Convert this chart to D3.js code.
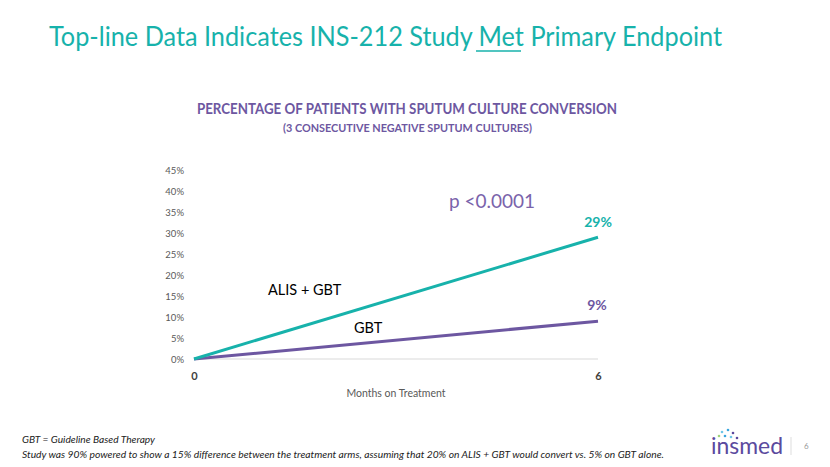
<!DOCTYPE html>
<html><head><meta charset="utf-8">
<script src="https://cdn.jsdelivr.net/npm/d3@7/dist/d3.min.js"></script>
<style>body{margin:0;background:#fff}svg{display:block}text{font-family:Lato,"Open Sans",sans-serif}</style>
</head><body>
<script>
const months = [0, 6];
const alisGbt = [0, 29];
const gbt = [0, 9];
const yTicks = [0,5,10,15,20,25,30,35,40,45];
const xTicks = [0, 6];
const endLabels = ["29%", "9%"];

const W = 830, H = 467;
const teal = "#17b2ab", purple = "#6d57a1";
const svg = d3.select("body").append("svg").attr("width", W).attr("height", H);

const x = d3.scaleLinear().domain([0, 6]).range([194, 598]);
const y = d3.scaleLinear().domain([0, 45]).range([359, 170]);

// Title
svg.append("text").attr("x", 49).attr("y", 46).attr("fill", teal)
  .attr("font-size", 26).attr("textLength", 673).attr("lengthAdjust", "spacingAndGlyphs")
  .text("Top-line Data Indicates INS-212 Study Met Primary Endpoint");
svg.append("line").attr("x1", 476).attr("x2", 521).attr("y1", 51).attr("y2", 51)
  .attr("stroke", teal).attr("stroke-width", 1.5);

// Subtitle
svg.append("text").attr("x", 197).attr("y", 114).attr("fill", purple)
  .attr("font-size", 14.5).attr("font-weight", "bold").attr("textLength", 420)
  .attr("lengthAdjust", "spacingAndGlyphs")
  .text("PERCENTAGE OF PATIENTS WITH SPUTUM CULTURE CONVERSION");
svg.append("text").attr("x", 283).attr("y", 132).attr("fill", purple)
  .attr("font-size", 11).attr("font-weight", "bold").attr("textLength", 249)
  .attr("lengthAdjust", "spacingAndGlyphs")
  .text("(3 CONSECUTIVE NEGATIVE SPUTUM CULTURES)");

// Y axis
const ya = svg.append("g").attr("transform", "translate(194,0)")
  .call(d3.axisLeft(y).tickValues(yTicks).tickFormat(d => d + "%").tickSize(0).tickPadding(10));
ya.select(".domain").remove();
ya.selectAll("text").attr("fill", "#595959").attr("font-size", 9.5).style("font-family", "Lato, sans-serif");

// baseline grid
svg.append("line").attr("x1", x(0)).attr("x2", x(6)).attr("y1", y(0)).attr("y2", y(0))
  .attr("stroke", "#d9d9d9").attr("stroke-width", 1);

// X axis
const xa = svg.append("g").attr("transform", `translate(0,${y(0)})`)
  .call(d3.axisBottom(x).tickValues(xTicks).tickFormat(d3.format("d")).tickSize(0).tickPadding(13));
xa.select(".domain").remove();
xa.selectAll("text").attr("fill", "#404040").attr("font-size", 11).attr("font-weight", "bold")
  .style("font-family", "Lato, sans-serif");

svg.append("text").attr("x", 396).attr("y", 397).attr("text-anchor", "middle")
  .attr("fill", "#595959").attr("font-size", 10.5).text("Months on Treatment");

// Lines
const line = d3.line().x((d, i) => x(months[i])).y(d => y(d));
svg.append("path").datum(gbt).attr("d", line).attr("fill", "none")
  .attr("stroke", purple).attr("stroke-width", 3);
svg.append("path").datum(alisGbt).attr("d", line).attr("fill", "none")
  .attr("stroke", teal).attr("stroke-width", 3);

// end labels
svg.append("text").attr("x", x(6)).attr("y", y(alisGbt[1]) - 10).attr("text-anchor", "middle")
  .attr("fill", teal).attr("font-size", 14).attr("font-weight", "bold").text(endLabels[0]);
svg.append("text").attr("x", x(6) - 1).attr("y", y(gbt[1]) - 11).attr("text-anchor", "middle")
  .attr("fill", purple).attr("font-size", 14).attr("font-weight", "bold").text(endLabels[1]);

// series labels
svg.append("text").attr("x", 268).attr("y", 295).attr("fill", "#000")
  .attr("font-size", 14.5).text("ALIS + GBT");
svg.append("text").attr("x", 354).attr("y", 333).attr("fill", "#000")
  .attr("font-size", 14.5).text("GBT");

svg.append("text").attr("x", 449).attr("y", 208).attr("fill", "#7a63ab")
  .attr("font-size", 19).text("p <0.0001");

// footnotes
svg.append("text").attr("x", 22).attr("y", 443).attr("fill", "#222").attr("font-size", 10)
  .attr("font-style", "italic").attr("textLength", 133).attr("lengthAdjust", "spacingAndGlyphs")
  .text("GBT = Guideline Based Therapy");
svg.append("text").attr("x", 22).attr("y", 458).attr("fill", "#222").attr("font-size", 10)
  .attr("font-style", "italic").attr("textLength", 642).attr("lengthAdjust", "spacingAndGlyphs")
  .text("Study was 90% powered to show a 15% difference between the treatment arms, assuming that 20% on ALIS + GBT would convert vs. 5% on GBT alone.");

// logo
const dots = [[722,432,"#6ec6e8"],[728,430,"#3aa6dd"],[733,433,"#5b4a9e"],[719,436,"#9fd37a"],[725,436,"#3aa6dd"],[731,437,"#6ec6e8"],[737,438,"#5b4a9e"]];
svg.selectAll("circle.logo").data(dots).enter().append("circle")
  .attr("cx", d => d[0]).attr("cy", d => d[1]).attr("r", 1.3).attr("fill", d => d[2]);
svg.append("text").attr("x", 711).attr("y", 454).attr("fill", "#5b4a9e")
  .attr("font-size", 23).attr("textLength", 72).attr("lengthAdjust", "spacingAndGlyphs").text("insmed");
svg.append("line").attr("x1", 791).attr("x2", 791).attr("y1", 437).attr("y2", 455)
  .attr("stroke", "#ddd").attr("stroke-width", 1);
svg.append("text").attr("x", 804).attr("y", 449).attr("fill", "#999").attr("font-size", 8).text("6");
</script>
</body></html>
